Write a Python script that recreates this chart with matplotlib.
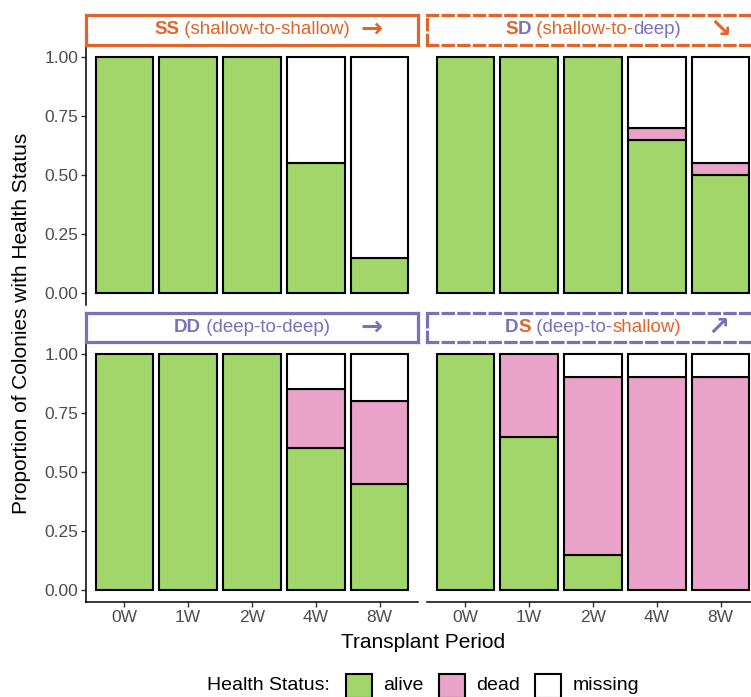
import matplotlib
matplotlib.use('Agg')
import matplotlib.pyplot as plt
from matplotlib.patches import Rectangle
import numpy as np

plt.rcParams['font.family'] = ['Liberation Sans', 'DejaVu Sans']

# ---------------- data ----------------
periods = ['0W', '1W', '2W', '4W', '8W']
statuses = ['alive', 'dead', 'missing']
status_colors = ['#A1D76A', '#E9A3C9', '#FFFFFF']
y_ticks = [0.00, 0.25, 0.50, 0.75, 1.00]
y_tick_labels = ['0.00', '0.25', '0.50', '0.75', '1.00']

ss_alive = [1.00, 1.00, 1.00, 0.55, 0.15]
ss_dead = [0.00, 0.00, 0.00, 0.00, 0.00]
ss_missing = [0.00, 0.00, 0.00, 0.45, 0.85]

sd_alive = [1.00, 1.00, 1.00, 0.65, 0.50]
sd_dead = [0.00, 0.00, 0.00, 0.05, 0.05]
sd_missing = [0.00, 0.00, 0.00, 0.30, 0.45]

dd_alive = [1.00, 1.00, 1.00, 0.60, 0.45]
dd_dead = [0.00, 0.00, 0.00, 0.25, 0.35]
dd_missing = [0.00, 0.00, 0.00, 0.15, 0.20]

ds_alive = [1.00, 0.65, 0.15, 0.00, 0.00]
ds_dead = [0.00, 0.35, 0.75, 0.90, 0.90]
ds_missing = [0.00, 0.00, 0.10, 0.10, 0.10]

ORANGE = '#E0652A'
PURPLE = '#7A70BC'

# ---------------- layout helpers ----------------
W, H = 751, 697
fig = plt.figure(figsize=(W / 100, H / 100), dpi=100)


def rect(x0, y0, x1, y1):
    return [x0 / W, 1 - y1 / H, (x1 - x0) / W, (y1 - y0) / H]


panels = [
    dict(box=(86, 45, 418, 305), strip=(86, 15, 418, 45), data=(ss_alive, ss_dead, ss_missing),
         left=True, bottom=False, col=ORANGE, ls='solid',
         pieces=[('SS', ORANGE, 'bold'), (' (shallow-to-shallow)', ORANGE, 'normal')],
         arrow='\u2192', arrow_col=ORANGE, arrow_px=372),
    dict(box=(427, 45, 759, 305), strip=(427, 15, 759, 45), data=(sd_alive, sd_dead, sd_missing),
         left=False, bottom=False, col=ORANGE, ls=(0, (3.2, 1.7)),
         pieces=[('S', ORANGE, 'bold'), ('D', PURPLE, 'bold'), (' (shallow-to-', ORANGE, 'normal'),
                 ('deep)', PURPLE, 'normal')],
         arrow='\u2198', arrow_col=ORANGE, arrow_px=720),
    dict(box=(86, 342, 418, 602), strip=(86, 313, 418, 342), data=(dd_alive, dd_dead, dd_missing),
         left=True, bottom=True, col=PURPLE, ls='solid',
         pieces=[('DD', PURPLE, 'bold'), (' (deep-to-deep)', PURPLE, 'normal')],
         arrow='\u2192', arrow_col=PURPLE, arrow_px=372),
    dict(box=(427, 342, 759, 602), strip=(427, 313, 759, 342), data=(ds_alive, ds_dead, ds_missing),
         left=False, bottom=True, col=PURPLE, ls=(0, (3.2, 1.7)),
         pieces=[('D', PURPLE, 'bold'), ('S', ORANGE, 'bold'), (' (deep-to-', PURPLE, 'normal'),
                 ('shallow)', ORANGE, 'normal')],
         arrow='\u2197', arrow_col=PURPLE, arrow_px=718),
]

x = np.arange(1, len(periods) + 1)
strip_texts = []

for p in panels:
    ax = fig.add_axes(rect(*p['box']))
    bottoms = np.zeros(len(periods))
    for vals, color in zip(p['data'], status_colors):
        vals = np.asarray(vals, dtype=float)
        mask = vals > 0
        ax.bar(x[mask], vals[mask], width=0.9, bottom=bottoms[mask], color=color,
               edgecolor='black', linewidth=1.5, zorder=2)
        bottoms = bottoms + vals
    ax.set_xlim(0.4, 5.6)
    ax.set_ylim(-0.05, 1.05)
    for s in ax.spines.values():
        s.set_visible(False)
    ax.spines['left'].set_visible(p['left'])
    ax.spines['bottom'].set_visible(p['bottom'])
    ax.spines['left'].set_linewidth(1.1)
    ax.spines['bottom'].set_linewidth(1.1)
    ax.tick_params(axis='both', direction='out', length=3.5, width=1.0, color='#333333',
                   labelcolor='#4D4D4D', labelsize=12.5, pad=2)
    if p['left']:
        ax.set_yticks(y_ticks)
        ax.set_yticklabels(y_tick_labels)
    else:
        ax.set_yticks([])
    if p['bottom']:
        ax.set_xticks(x)
        ax.set_xticklabels(periods)
    else:
        ax.set_xticks([])

    # strip
    sax = fig.add_axes(rect(*p['strip']))
    sax.set_xticks([]); sax.set_yticks([])
    sax.set_xlim(0, 1); sax.set_ylim(0, 1)
    sax.patch.set_alpha(0)
    for s in sax.spines.values():
        s.set_color(p['col'])
        s.set_linewidth(2.3)
        s.set_linestyle(p['ls'])
    fs = 13.5
    t0 = sax.text(0.3, 0.5, p['pieces'][0][0], color=p['pieces'][0][1],
                  fontweight=p['pieces'][0][2], fontsize=fs, ha='left', va='center',
                  transform=sax.transAxes)
    prev = t0
    arts = [t0]
    for txt, colr, wt in p['pieces'][1:]:
        a = sax.annotate(txt, xy=(1, 0.5), xycoords=prev, ha='left', va='center',
                         color=colr, fontweight=wt, fontsize=fs)
        arts.append(a)
        prev = a
    bx = p['box']
    strip_texts.append((sax, t0, arts, (bx[0] + bx[2]) / 2, bx))
    ax_x = (p['arrow_px'] - bx[0]) / (bx[2] - bx[0])
    sax.text(ax_x, 0.5, p['arrow'], color=p['arrow_col'], fontsize=19, fontweight='bold',
             family=['DejaVu Sans'], ha='center', va='center', transform=sax.transAxes)

# center multi-colour strip labels
fig.canvas.draw()
renderer = fig.canvas.get_renderer()
for sax, t0, arts, cx, bx in strip_texts:
    left = arts[0].get_window_extent(renderer).x0
    right = arts[-1].get_window_extent(renderer).x1
    width = right - left
    new_left_px = cx - width / 2
    t0.set_position(((new_left_px - bx[0]) / (bx[2] - bx[0]), 0.5))

# axis titles
fig.text(22 / W, 1 - 323 / H, 'Proportion of Colonies with Health Status', rotation=90,
         ha='center', va='center', fontsize=15, color='black')
fig.text(423 / W, 1 - 642 / H, 'Transplant Period', ha='center', va='center',
         fontsize=15, color='black')

# legend
fig.text(207 / W, 1 - 685 / H, 'Health Status:', ha='left', va='center', fontsize=14)
key_x = [346, 439, 535]
label_x = [383, 476, 573]
for kx, lx, col, lab in zip(key_x, label_x, status_colors, statuses):
    fig.add_artist(Rectangle((kx / W, 1 - 698 / H), 26 / W, 24 / H, transform=fig.transFigure,
                             facecolor=col, edgecolor='black', linewidth=1.5))
    fig.text(lx / W, 1 - 685 / H, lab, ha='left', va='center', fontsize=14)

fig.savefig('out.png', dpi=100)
